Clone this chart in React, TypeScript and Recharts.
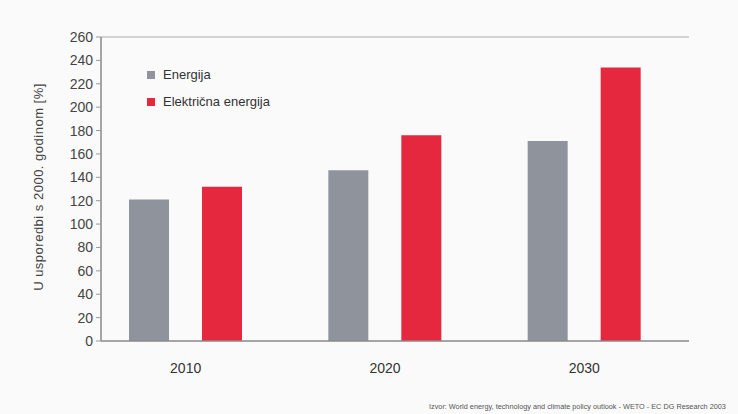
import { BarChart, Bar, XAxis, YAxis, ReferenceLine } from 'recharts';

const years = ['2010', '2020', '2030'];
const energija = [121, 146, 171];
const elektricna = [132, 176, 234];
const yTicks = [0, 20, 40, 60, 80, 100, 120, 140, 160, 180, 200, 220, 240, 260];

const seriesNames = ['Energija', 'Električna energija'];
const seriesColors = ['#8f939b', '#e5283e'];

const data = years.map((year, i) => ({
  year,
  energija: energija[i],
  elektricna: elektricna[i],
}));

const font = '"Liberation Sans", Arial, sans-serif';

export default function App() {
  return (
    <div style={{ position: 'fixed', left: 0, top: 0, width: 738, height: 414, background: '#fafafb', overflow: 'hidden' }}>
      <BarChart
        width={738}
        height={414}
        data={data}
        margin={{ top: 37, right: 49, bottom: 43, left: 41 }}
        barGap={33}
        barSize={40}
      >
        <XAxis
          dataKey="year"
          height={30}
          padding={{ left: -15, right: 5 }}
          tickLine={false}
          axisLine={{ stroke: '#888', strokeWidth: 1.5 }}
          tick={{ fill: '#333', fontSize: 14, fontFamily: font }}
          tickMargin={16}
        />
        <YAxis
          width={60}
          domain={[0, 260]}
          ticks={yTicks}
          interval={0}
          tickSize={5}
          tickLine={{ stroke: '#999' }}
          axisLine={{ stroke: '#888', strokeWidth: 1.5 }}
          tick={{ fill: '#444', fontSize: 14, fontFamily: font }}
          tickMargin={3}
        />
        <YAxis yAxisId="frame" orientation="right" width={0} tick={false} tickLine={false} axisLine={{ stroke: '#aaa', strokeWidth: 1.5 }} />
        <ReferenceLine y={260} stroke="#c4c4c8" strokeWidth={1.5} />
        <Bar dataKey="energija" name={seriesNames[0]} fill={seriesColors[0]} isAnimationActive={false} />
        <Bar dataKey="elektricna" name={seriesNames[1]} fill={seriesColors[1]} isAnimationActive={false} />
      </BarChart>
      <div style={{ position: 'absolute', left: 147, top: 61, fontFamily: font, fontSize: 13, color: '#333' }}>
        {seriesNames.map((name, i) => (
          <div key={name} style={{ display: 'flex', alignItems: 'center', height: 27 }}>
            <span style={{ width: 8, height: 8, background: seriesColors[i], marginRight: 8, display: 'inline-block' }} />
            {name}
          </div>
        ))}
      </div>
      <div
        style={{
          position: 'absolute',
          left: 38,
          top: 187,
          transform: 'translate(-50%, -50%) rotate(-90deg)',
          whiteSpace: 'nowrap',
          fontFamily: font,
          fontSize: 13,
          letterSpacing: 0.5,
          color: '#444',
        }}
      >
        U usporedbi s 2000. godinom [%]
      </div>
      <div
        style={{
          position: 'absolute',
          left: 429,
          top: 402,
          whiteSpace: 'nowrap',
          fontFamily: font,
          fontSize: 7.3,
          color: '#555',
        }}
      >
        Izvor: World energy, technology and climate policy outlook - WETO - EC DG Research 2003
      </div>
    </div>
  );
}
